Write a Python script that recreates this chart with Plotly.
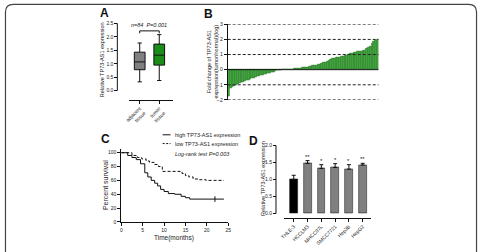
import plotly.graph_objects as go

W, H = 482, 252
FONT = "Liberation Sans, Arial, sans-serif"

def fx(x):
    return x / W

def fy(y):
    return 1 - y / H

# ---------------- data ----------------
# Panel A: box plot summaries
A_groups = ["adjacent<br>tissue", "tumor<br>tissue"]
A_lower = [0.33, 0.38]
A_q1 = [0.78, 0.95]
A_median = [1.07, 1.32]
A_q3 = [1.43, 1.73]
A_upper = [1.77, 2.08]
A_colors = ["#808080", "#1a8c1a"]
A_yticks = [0.0, 0.5, 1.0, 1.5, 2.0, 2.5]

# Panel B: sorted log fold changes (84 patients)
B_values = [
    -1.77, -1.25, -1.15, -1.10, -1.05, -0.98, -0.92, -0.86, -0.81, -0.76,
    -0.71, -0.67, -0.63, -0.58, -0.54, -0.50, -0.46, -0.42, -0.38, -0.35,
    -0.31, -0.28, -0.25, -0.21, -0.18, -0.14, -0.10, -0.07, -0.04, -0.01,
    0.00, 0.00, 0.00, 0.01, 0.02, 0.03, 0.05, 0.06, 0.08, 0.09,
    0.11, 0.13, 0.15, 0.17, 0.19, 0.22, 0.25, 0.27, 0.29, 0.31,
    0.33, 0.36, 0.40, 0.46, 0.51, 0.57, 0.63, 0.68, 0.73, 0.76,
    0.79, 0.82, 0.85, 0.88, 0.91, 0.94, 0.97, 1.01, 1.06, 1.11,
    1.15, 1.18, 1.20, 1.21, 1.23, 1.26, 1.30, 1.40, 1.48, 1.55,
    1.75, 1.90, 1.95, 2.00,
]
B_yticks = [-2, -1, 0, 1, 2, 3]
B_dashed = [-2, -1, 1, 2, 3]

# Panel C: Kaplan-Meier curves
C_high_t = [0, 1.5, 2.5, 3.5, 4.5, 5.5, 6.2, 7.0, 7.8, 8.5, 9.2, 10.0, 11.0, 12.5, 14.0, 15.0, 16.0, 24.0]
C_high_s = [100, 96, 93, 90, 84, 71, 65, 60, 56, 52, 47, 44, 41, 40, 37, 35, 33, 33]
C_low_t = [0, 2.5, 3.8, 4.8, 5.8, 6.6, 7.7, 8.7, 9.6, 14.2, 15.0, 15.8, 16.8, 18.3, 19.8, 24.0]
C_low_s = [100, 96, 93, 91, 88, 86, 83, 80, 73, 70, 67, 65, 62, 61, 60, 60]
C_censor_t = [21.9]
C_censor_s = [33]
C_xticks = [0, 5, 10, 15, 20, 25]
C_yticks = [0, 20, 40, 60, 80, 100]

# Panel D: cell lines
D_cells = ["THLE-3", "HCCLM3", "MHCC97L", "SMCC7721", "Hep3B", "HepG2"]
D_values = [1.00, 1.47, 1.32, 1.35, 1.30, 1.42]
D_err = [0.12, 0.08, 0.11, 0.11, 0.13, 0.05]
D_stars = ["", "**", "*", "*", "*", "**"]
D_colors = ["#000000", "#808080", "#808080", "#808080", "#808080", "#808080"]
D_yticks = [0.0, 0.5, 1.0, 1.5, 2.0]

fig = go.Figure()
tickfont = dict(family=FONT, size=5, color="#222")

# ---------------- Panel A ----------------
for i in range(len(A_groups)):
    fig.add_trace(go.Box(
        x=[i], q1=[A_q1[i]], median=[A_median[i]], q3=[A_q3[i]],
        lowerfence=[A_lower[i]], upperfence=[A_upper[i]],
        fillcolor=A_colors[i], line=dict(color="#111", width=1),
        width=0.55, whiskerwidth=0.4, boxpoints=False, showlegend=False,
        xaxis="x", yaxis="y", hoverinfo="skip"))

# ---------------- Panel B ----------------
fig.add_trace(go.Bar(
    x=list(range(len(B_values))), y=B_values,
    marker=dict(color="#3fa53a", line=dict(color="#1d6b1d", width=0.4)),
    showlegend=False, xaxis="x2", yaxis="y2", hoverinfo="skip"))

# ---------------- Panel C ----------------
fig.add_trace(go.Scatter(
    x=C_high_t, y=C_high_s, mode="lines", line=dict(color="#111", width=1, shape="hv"),
    showlegend=False, xaxis="x3", yaxis="y3", hoverinfo="skip"))
fig.add_trace(go.Scatter(
    x=C_low_t, y=C_low_s, mode="lines",
    line=dict(color="#111", width=1, shape="hv", dash="3px,2px"),
    showlegend=False, xaxis="x3", yaxis="y3", hoverinfo="skip"))
fig.add_trace(go.Scatter(
    x=C_censor_t, y=C_censor_s, mode="markers",
    marker=dict(symbol="line-ns", size=4, line=dict(color="#111", width=1)),
    showlegend=False, xaxis="x3", yaxis="y3", hoverinfo="skip"))

# ---------------- Panel D ----------------
fig.add_trace(go.Bar(
    x=list(range(len(D_cells))), y=D_values, width=0.57,
    marker=dict(color=D_colors, line=dict(color="#111", width=0.5)),
    error_y=dict(type="data", symmetric=False, array=D_err,
                 arrayminus=[0] * len(D_err), color="#111", thickness=1, width=2),
    showlegend=False, xaxis="x4", yaxis="y4", hoverinfo="skip"))

shapes = []
annotations = []

def ann(x, y, text, size, angle=0, xanchor="center", yanchor="middle", **kw):
    annotations.append(dict(x=fx(x), y=fy(y), xref="paper", yref="paper", text=text,
                            textangle=angle, showarrow=False, xanchor=xanchor,
                            yanchor=yanchor, borderpad=0,
                            font=dict(family=FONT, size=size, color="#222"), **kw))

# overall rounded border
r = 8
shapes.append(dict(
    type="path", xref="paper", yref="paper",
    path=(f"M {fx(1.5)} {fy(260)} L {fx(1.5)} {fy(1.5 + r)} "
          f"Q {fx(1.5)} {fy(1.5)} {fx(1.5 + r)} {fy(1.5)} "
          f"L {fx(479.5 - r)} {fy(1.5)} Q {fx(479.5)} {fy(1.5)} {fx(479.5)} {fy(1.5 + r)} "
          f"L {fx(479.5)} {fy(260)}"),
    line=dict(color="#444", width=1.2)))

# A: y-axis line and bracket
shapes.append(dict(type="line", xref="paper", yref="y", x0=fx(115), x1=fx(115),
                   y0=A_yticks[0], y1=A_yticks[-1], line=dict(color="#111", width=1)))
shapes.append(dict(type="path", xref="x", yref="y",
                   path="M 0 2.13 L 0 2.22 L 1 2.22 L 1 2.13",
                   line=dict(color="#111", width=1)))
annotations.append(dict(x=0.5, y=2.22, xref="x", yref="y", text="<i>n=84  P=0.001</i>",
                        showarrow=False, xanchor="center", yanchor="bottom", yshift=1,
                        font=dict(family=FONT, size=5.5, color="#222")))

# B: horizontal grid lines
for v in B_dashed:
    shapes.append(dict(type="line", xref="x2 domain", yref="y2", x0=0, x1=1, y0=v, y1=v,
                       line=dict(color="#222", width=1, dash="3px,2px")))
shapes.append(dict(type="line", xref="x2 domain", yref="y2", x0=0, x1=1, y0=0, y1=0,
                   line=dict(color="#111", width=1)))

# D: y-axis line and stars
shapes.append(dict(type="line", xref="paper", yref="y4", x0=fx(276), x1=fx(276),
                   y0=D_yticks[0], y1=D_yticks[-1], line=dict(color="#111", width=1)))
for i, s in enumerate(D_stars):
    if s:
        annotations.append(dict(x=i, y=D_values[i] + D_err[i], xref="x4", yref="y4", text=s,
                                showarrow=False, xanchor="center", yanchor="bottom", yshift=-1,
                                font=dict(family=FONT, size=6, color="#222")))

# C legend
shapes.append(dict(type="line", xref="paper", yref="paper", x0=fx(161), x1=fx(169),
                   y0=fy(135), y1=fy(135), line=dict(color="#111", width=1)))
shapes.append(dict(type="line", xref="paper", yref="paper", x0=fx(161), x1=fx(169),
                   y0=fy(144), y1=fy(144), line=dict(color="#111", width=1, dash="2px,1.5px")))
ann(173, 135, "high TP73-AS1 expression", 5.5, xanchor="left")
ann(173, 144, "low TP73-AS1 expression", 5.5, xanchor="left")
ann(173, 154.5, "<i>Log-rank test P=0.003</i>", 5.5, xanchor="left")

# panel letters
for (x, y, t) in [(102, 10.5, "A"), (208, 11.5, "B"), (103, 139, "C"), (253.5, 141, "D")]:
    annotations.append(dict(x=fx(x), y=fy(y), xref="paper", yref="paper", text=f"<b>{t}</b>",
                            showarrow=False, xanchor="center", yanchor="middle", borderpad=0,
                            font=dict(family=FONT, size=12, color="#111")))

# axis titles
ann(99, 58, "Relative TP73-AS1 expression", 5.5, angle=-90)
ann(212, 60, "Fold change of TP73-AS1<br>expression(tumor/normal)(log)", 5.5, angle=-90)
ann(103, 187, "Percent survival", 7, angle=-90)
ann(172, 240.5, "Time(months)", 6.5)
ann(263, 180, "Relative TP73-AS1 expression", 5.5, angle=-90)

axcommon = dict(showgrid=False, zeroline=False, ticks="outside", ticklen=3,
                tickwidth=1, tickcolor="#111", tickfont=tickfont, linecolor="#111", linewidth=1)

fig.update_layout(
    width=W, height=H, margin=dict(l=0, r=0, t=0, b=0),
    paper_bgcolor="white", plot_bgcolor="rgba(0,0,0,0)",
    bargap=0, showlegend=False,
    shapes=shapes, annotations=annotations,
    # A
    xaxis=dict(domain=[fx(127), fx(171)], anchor="y", range=[-0.54, 1.68],
               tickvals=[0, 1], ticktext=A_groups, tickangle=-45, showline=True, **axcommon),
    yaxis=dict(domain=[fy(99), fy(20)], anchor="free", position=fx(115),
               range=[-0.33, 2.53], tickvals=A_yticks, tickformat=".1f", showline=False,
               **axcommon),
    # B
    xaxis2=dict(domain=[fx(227), fx(380)], anchor="y2", range=[-0.5, len(B_values) - 0.5],
                showline=False, showgrid=False, zeroline=False, showticklabels=False, ticks=""),
    yaxis2=dict(domain=[fy(99.3), fy(21.8)], anchor="x2", range=[-2, 3],
                tickvals=B_yticks, showline=True, **axcommon),
    # C
    xaxis3=dict(domain=[fx(119), fx(227.5)], anchor="y3", range=[0, 25],
                tickvals=C_xticks, showline=True, **axcommon),
    yaxis3=dict(domain=[fy(224.3), fy(149.8)], anchor="x3", range=[0, 105],
                tickvals=C_yticks, showline=True, **axcommon),
    # D
    xaxis4=dict(domain=[fx(284), fx(372)], anchor="y4", range=[-0.714, 5.571],
                tickvals=list(range(len(D_cells))), ticktext=D_cells, tickangle=-45,
                showline=True, **axcommon),
    yaxis4=dict(domain=[fy(220), fy(145.7)], anchor="free", position=fx(276),
                range=[-0.123, 2.0], tickvals=D_yticks, tickformat=".1f", showline=False,
                **axcommon),
)

fig.write_html("out.html")
